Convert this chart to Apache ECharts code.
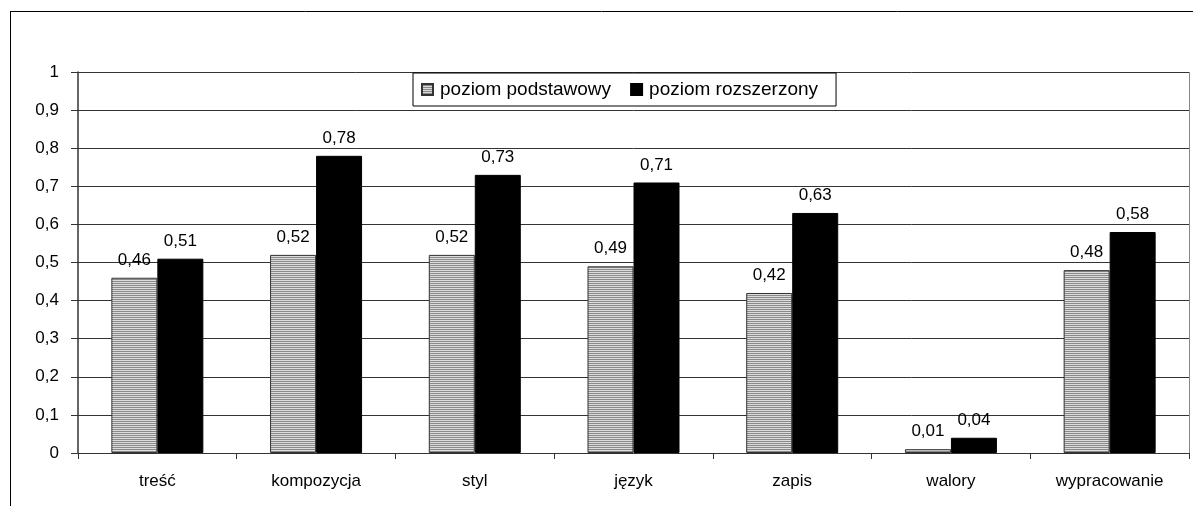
<!DOCTYPE html>
<html>
<head>
<meta charset="utf-8">
<script src="https://cdn.jsdelivr.net/npm/echarts@6/dist/echarts.min.js"></script>
<style>
  html, body { margin: 0; padding: 0; background: #fff; }
  #container { width: 1193px; height: 506px; }
</style>
</head>
<body>
<div id="container"></div>
<script>
var categories = ["treść", "kompozycja", "styl", "język", "zapis", "walory", "wypracowanie"];
var basicValues = [0.46, 0.52, 0.52, 0.49, 0.42, 0.01, 0.48];
var extendedValues = [0.51, 0.78, 0.73, 0.71, 0.63, 0.04, 0.58];
var seriesNames = ["poziom podstawowy", "poziom rozszerzony"];

// horizontal stripe fill for the grey bars
var stripe = document.createElement("canvas");
stripe.width = 4;
stripe.height = 2;
var ctx = stripe.getContext("2d");
ctx.fillStyle = "#dcdcdc";
ctx.fillRect(0, 0, 4, 1);
ctx.fillStyle = "#8a8a8a";
ctx.fillRect(0, 1, 4, 1);

var fmt = function(v) {
  return String(v).replace(".", ",");
};

var dom = document.getElementById("container");
var myChart = echarts.init(dom);

var seriesLabel = {
  show: true,
  position: "top",
  distance: 9,
  color: "#000",
  fontFamily: "Liberation Sans",
  fontSize: 17,
  formatter: function(p) { return fmt(p.value); }
};

var option = {
  animation: false,
  textStyle: { fontFamily: "Liberation Sans" },
  graphic: [
    { type: "line", shape: { x1: 10, y1: 11.5, x2: 1193, y2: 11.5 }, style: { stroke: "#000", lineWidth: 1 } },
    { type: "line", shape: { x1: 10.5, y1: 11, x2: 10.5, y2: 506 }, style: { stroke: "#000", lineWidth: 1 } },
    // right edge of the plot area
    { type: "line", shape: { x1: 1189.5, y1: 72, x2: 1189.5, y2: 453 }, style: { stroke: "#888", lineWidth: 1 } }
  ],
  legend: {
    data: seriesNames,
    left: 413,
    top: 73,
    padding: [7, 18, 7, 8],
    itemGap: 19,
    itemWidth: 11,
    itemHeight: 11,
    icon: "rect",
    backgroundColor: "#fff",
    borderColor: "#000",
    borderWidth: 1,
    textStyle: { fontSize: 19, color: "#000", padding: [0, 0, 0, 2] }
  },
  grid: {
    left: 78,
    top: 72,
    right: 4,
    bottom: 53
  },
  xAxis: {
    type: "category",
    data: categories,
    axisLine: { lineStyle: { color: "#333", width: 1 } },
    axisTick: { show: true, length: 6, lineStyle: { color: "#333" } },
    axisLabel: { color: "#000", fontSize: 17, margin: 20 },
    splitLine: { show: false }
  },
  yAxis: {
    type: "value",
    min: 0,
    max: 1,
    interval: 0.1,
    axisLine: { show: true, lineStyle: { color: "#333", width: 1.5 } },
    axisTick: { show: true, length: 7, lineStyle: { color: "#333" } },
    axisLabel: { color: "#000", fontSize: 17, margin: 19, formatter: function(v) { return fmt(Math.round(v * 10) / 10); } },
    splitLine: { show: true, lineStyle: { color: "#333", width: 1 } }
  },
  series: [
    {
      name: seriesNames[0],
      type: "bar",
      data: basicValues,
      barWidth: 46,
      barGap: "0%",
      itemStyle: { color: { image: stripe, repeat: "repeat" }, borderColor: "#333", borderWidth: 1 },
      label: seriesLabel
    },
    {
      name: seriesNames[1],
      type: "bar",
      data: extendedValues,
      barWidth: 46,
      barGap: "0%",
      itemStyle: { color: "#000", borderColor: "#000", borderWidth: 1 },
      label: seriesLabel
    }
  ]
};

myChart.setOption(option, true);
</script>
</body>
</html>
